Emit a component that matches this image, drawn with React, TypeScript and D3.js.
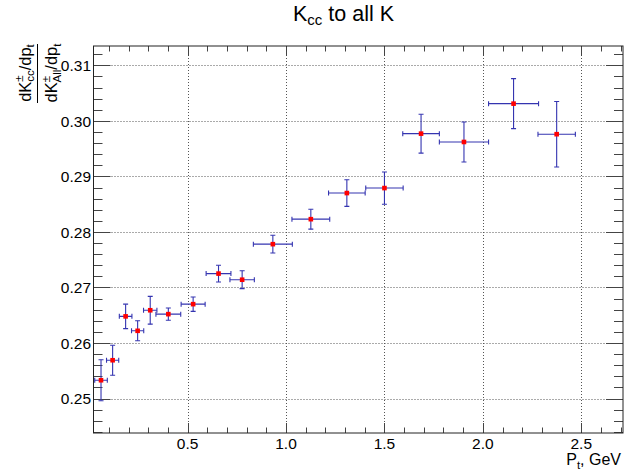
import * as d3 from 'd3'

// measured points (Pt bin centre, ratio) with errors
const pt = [0.060, 0.119, 0.185, 0.246, 0.310, 0.402, 0.528, 0.657, 0.777, 0.933, 1.126, 1.309, 1.500, 1.686, 1.904, 2.156, 2.375]
const ptErr = [0.032, 0.031, 0.032, 0.031, 0.034, 0.063, 0.061, 0.063, 0.062, 0.099, 0.096, 0.093, 0.095, 0.093, 0.125, 0.127, 0.095]
const ratio = [0.2533, 0.2569, 0.2648, 0.2622, 0.2659, 0.2652, 0.2670, 0.2725, 0.2714, 0.2778, 0.2823, 0.2870, 0.2879, 0.2977, 0.2962, 0.3031, 0.2976]
const ratioErr = [0.0037, 0.0027, 0.0022, 0.0018, 0.0025, 0.0011, 0.0013, 0.0015, 0.0016, 0.0016, 0.0018, 0.0024, 0.0029, 0.0035, 0.0036, 0.0045, 0.0059]

const xTicks = [0.5, 1.0, 1.5, 2.0, 2.5]
const xTickLabels = ['0.5', '1.0', '1.5', '2.0', '2.5']
const yTicks = [0.25, 0.26, 0.27, 0.28, 0.29, 0.30, 0.31]
const yTickLabels = ['0.25', '0.26', '0.27', '0.28', '0.29', '0.30', '0.31']

const xDomain = [0.0218, 2.712]
const yDomain = [0.2438, 0.31348]

const W = 624
const H = 473
const margin = { top: 46, right: 1, bottom: 40, left: 93.5 }
const font = '"Liberation Sans", Arial, Helvetica, sans-serif'
const errColor = '#3434b0'

export default function App() {
  const x = d3.scaleLinear().domain(xDomain).range([margin.left, W - margin.right])
  const y = d3.scaleLinear().domain(yDomain).range([H - margin.bottom, margin.top])
  const [x0, x1] = x.range()
  const [y0, y1] = y.range()

  const isMajor = (v: number, list: number[]) => list.some(t => Math.abs(t - v) < 1e-6)
  const xMinor = d3.range(0.1, 2.705, 0.1).filter(v => !isMajor(v, xTicks))
  const yMinor = d3.range(0.244, 0.3135, 0.002).filter(v => !isMajor(v, yTicks))

  const data = pt.map((p, i) => ({ x: p, ex: ptErr[i], y: ratio[i], ey: ratioErr[i] }))
  const cap = 2.5

  return (
    <svg width={W} height={H} style={{ position: 'absolute', left: 0, top: 0, background: '#fff' }} fontFamily={font}>
      <rect x={0} y={0} width={W} height={H} fill="#fff" />
      <defs>
        <clipPath id="frame">
          <rect x={x0} y={y1} width={x1 - x0} height={y0 - y1} />
        </clipPath>
      </defs>

      {/* grid */}
      <g stroke="#555" strokeDasharray="1,2" strokeWidth={1}>
        {xTicks.map(t => (
          <line key={'gx' + t} x1={Math.round(x(t)) + 0.5} x2={Math.round(x(t)) + 0.5} y1={y1} y2={y0} />
        ))}
        {yTicks.map(t => (
          <line key={'gy' + t} x1={x0} x2={x1} y1={Math.round(y(t)) + 0.5} y2={Math.round(y(t)) + 0.5} />
        ))}
      </g>

      {/* ticks on all four sides */}
      <g stroke="#444" strokeWidth={1}>
        {xTicks.map(t => {
          const px = Math.round(x(t)) + 0.5
          return (
            <g key={'tx' + t}>
              <line x1={px} x2={px} y1={y0} y2={y0 - 10} />
              <line x1={px} x2={px} y1={y1} y2={y1 + 10} />
            </g>
          )
        })}
        {xMinor.map(t => {
          const px = Math.round(x(t)) + 0.5
          return (
            <g key={'mx' + t}>
              <line x1={px} x2={px} y1={y0} y2={y0 - 5.5} />
              <line x1={px} x2={px} y1={y1} y2={y1 + 5.5} />
            </g>
          )
        })}
        {yTicks.map(t => {
          const py = Math.round(y(t)) + 0.5
          return (
            <g key={'ty' + t}>
              <line x1={x0} x2={x0 + 17} y1={py} y2={py} />
              <line x1={x1} x2={x1 - 17} y1={py} y2={py} />
            </g>
          )
        })}
        {yMinor.map(t => {
          const py = Math.round(y(t)) + 0.5
          return (
            <g key={'my' + t}>
              <line x1={x0} x2={x0 + 9} y1={py} y2={py} />
              <line x1={x1} x2={x1 - 9} y1={py} y2={py} />
            </g>
          )
        })}
      </g>

      {/* frame */}
      <rect x={x0} y={y1} width={x1 - x0} height={y0 - y1} fill="none" stroke="#222" strokeWidth={1} />

      {/* error bars and markers */}
      <g clipPath="url(#frame)">
        {data.map((d, i) => {
          const cx = x(d.x)
          const cy = y(d.y)
          const xl = x(d.x - d.ex)
          const xr = x(d.x + d.ex)
          const yt = y(d.y + d.ey)
          const yb = y(d.y - d.ey)
          return (
            <g key={'pt' + i} stroke={errColor} strokeWidth={1.1}>
              <line x1={xl} x2={xr} y1={cy} y2={cy} />
              <line x1={cx} x2={cx} y1={yt} y2={yb} />
              <line x1={xl} x2={xl} y1={cy - cap} y2={cy + cap} />
              <line x1={xr} x2={xr} y1={cy - cap} y2={cy + cap} />
              <line x1={cx - cap} x2={cx + cap} y1={yt} y2={yt} />
              <line x1={cx - cap} x2={cx + cap} y1={yb} y2={yb} />
              <rect x={cx - 2.3} y={cy - 2.3} width={4.6} height={4.6} fill="#ff0000" stroke="none" />
            </g>
          )
        })}
      </g>

      {/* tick labels */}
      <g fontSize={15.5} fill="#000">
        {xTicks.map((t, i) => (
          <text key={'lx' + t} x={x(t)} y={449} textAnchor="middle">{xTickLabels[i]}</text>
        ))}
        {yTicks.map((t, i) => (
          <text key={'ly' + t} x={91} y={y(t) + 5.8} textAnchor="end">{yTickLabels[i]}</text>
        ))}
      </g>

      {/* title */}
      <text x={293} y={21.3} fontSize={21.5} fill="#000">
        K<tspan fontSize={15} dy={4}>cc</tspan><tspan dy={-4}> to all K</tspan>
      </text>

      {/* x axis title */}
      <text x={621} y={465} fontSize={16} textAnchor="end" fill="#000">
        P<tspan fontSize={11.5} dy={3.5}>t</tspan><tspan dy={-3.5}>, GeV</tspan>
      </text>

      {/* y axis title: fraction */}
      <g transform="translate(0,73) rotate(-90)" fill="#000" fontSize={16.5}>
        <text x={0} y={30.5} textAnchor="middle">
          dK<tspan fontSize={11.5} dy={-7.5}>±</tspan>
          <tspan fontSize={11.5} dx={-6.5} dy={11}>cc</tspan>
          <tspan dy={-3.5}>/dp</tspan>
          <tspan fontSize={11.5} dy={3.5}>t</tspan>
        </text>
        <line x1={-30} x2={29} y1={37.5} y2={37.5} stroke="#000" strokeWidth={1} />
        <text x={0} y={57} textAnchor="middle">
          dK<tspan fontSize={11.5} dy={-7.5}>±</tspan>
          <tspan fontSize={11.5} dx={-6.5} dy={11}>All</tspan>
          <tspan dy={-3.5}>/dp</tspan>
          <tspan fontSize={11.5} dy={3.5}>t</tspan>
        </text>
      </g>
    </svg>
  )
}
